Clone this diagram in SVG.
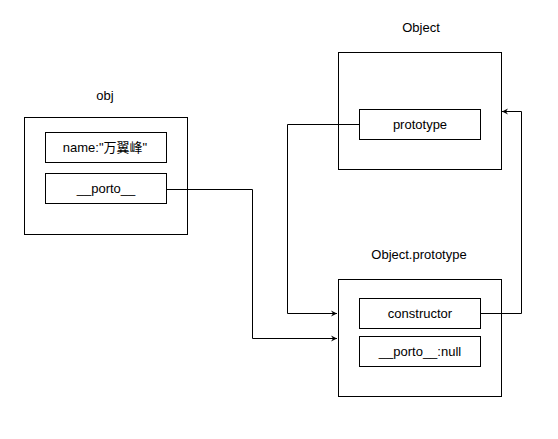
<svg xmlns="http://www.w3.org/2000/svg" width="558" height="439" viewBox="0 0 558 439">
<defs>
<marker id="arr" markerWidth="8" markerHeight="8" refX="7" refY="4" orient="auto" markerUnits="userSpaceOnUse">
<path d="M1,1 L7,4 L1,7 L3,4 Z" fill="#000"/>
</marker>
<style>
rect{fill:#fff;stroke:#000;stroke-width:1}
text{font-family:"Liberation Sans",Arial,"Noto Sans CJK SC",sans-serif;font-size:13px;fill:#000;text-anchor:middle}
.c{fill:none;stroke:#000;stroke-width:1}
</style>
</defs>
<rect x="0" y="0" width="558" height="439" style="stroke:none"/>
<g id="obj">
<text x="105" y="100">obj</text>
<rect x="24.5" y="117.5" width="163" height="117"/>
</g>
<g id="obj-name">
<rect x="45.5" y="132.5" width="121" height="30"/>
<text x="105" y="152">name:"万翼峰"</text>
</g>
<g id="obj-porto">
<rect x="45.5" y="173.5" width="121" height="30"/>
<text x="106" y="193">__porto__</text>
</g>
<g id="Object">
<text x="421" y="32">Object</text>
<rect x="338.5" y="52.5" width="163" height="117"/>
</g>
<g id="Object-prototype">
<rect x="359.5" y="109.5" width="121" height="30"/>
<text x="420" y="129">prototype</text>
</g>
<g id="ObjectPrototype">
<text x="419" y="259">Object.prototype</text>
<rect x="338.5" y="279.5" width="163" height="117"/>
</g>
<g id="op-constructor">
<rect x="359.5" y="298.5" width="121" height="30"/>
<text x="420" y="318">constructor</text>
</g>
<g id="op-porto">
<rect x="359.5" y="336.5" width="121" height="30"/>
<text x="420" y="356">__porto__:null</text>
</g>
<g id="connectors">
<path class="c" d="M166,189.5 H252.5 V338.5 H337" marker-end="url(#arr)"/>
<path class="c" d="M359,124.5 H287.5 V313.5 H337" marker-end="url(#arr)"/>
<path class="c" d="M480,313.5 H521.5 V111.5 H502" marker-end="url(#arr)"/>
</g>
</svg>
